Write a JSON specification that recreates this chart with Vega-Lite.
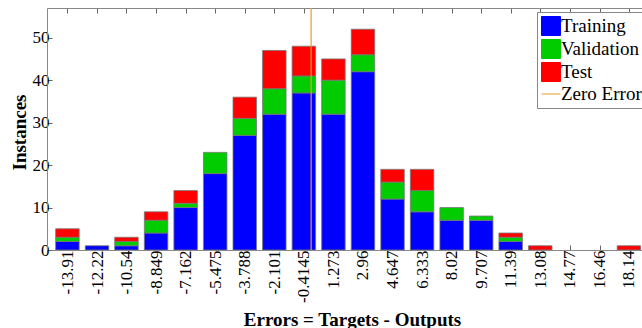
{
  "$schema": "https://vega.github.io/schema/vega-lite/v6.json",
  "autosize": "none",
  "width": 595,
  "height": 242,
  "padding": {"left": 47, "top": 8, "right": 0, "bottom": 78},
  "background": "white",
  "config": {
    "font": "Liberation Serif",
    "view": {"stroke": null},
    "axis": {"grid": false, "domainColor": "#888888", "tickColor": "#666666", "labelColor": "#000000", "titleColor": "#000000", "labelFont": "Liberation Serif", "titleFont": "Liberation Serif"},
    "legend": {"labelFont": "Liberation Serif"}
  },
  "datasets": {
    "hist": [
      {"bin": -13.91, "set": "Training", "n": 2}, {"bin": -13.91, "set": "Validation", "n": 1}, {"bin": -13.91, "set": "Test", "n": 2},
      {"bin": -12.22, "set": "Training", "n": 1},
      {"bin": -10.54, "set": "Training", "n": 1}, {"bin": -10.54, "set": "Validation", "n": 1}, {"bin": -10.54, "set": "Test", "n": 1},
      {"bin": -8.849, "set": "Training", "n": 4}, {"bin": -8.849, "set": "Validation", "n": 3}, {"bin": -8.849, "set": "Test", "n": 2},
      {"bin": -7.162, "set": "Training", "n": 10}, {"bin": -7.162, "set": "Validation", "n": 1}, {"bin": -7.162, "set": "Test", "n": 3},
      {"bin": -5.475, "set": "Training", "n": 18}, {"bin": -5.475, "set": "Validation", "n": 5},
      {"bin": -3.788, "set": "Training", "n": 27}, {"bin": -3.788, "set": "Validation", "n": 4}, {"bin": -3.788, "set": "Test", "n": 5},
      {"bin": -2.101, "set": "Training", "n": 32}, {"bin": -2.101, "set": "Validation", "n": 6}, {"bin": -2.101, "set": "Test", "n": 9},
      {"bin": -0.4145, "set": "Training", "n": 37}, {"bin": -0.4145, "set": "Validation", "n": 4}, {"bin": -0.4145, "set": "Test", "n": 7},
      {"bin": 1.273, "set": "Training", "n": 32}, {"bin": 1.273, "set": "Validation", "n": 8}, {"bin": 1.273, "set": "Test", "n": 5},
      {"bin": 2.96, "set": "Training", "n": 42}, {"bin": 2.96, "set": "Validation", "n": 4}, {"bin": 2.96, "set": "Test", "n": 6},
      {"bin": 4.647, "set": "Training", "n": 12}, {"bin": 4.647, "set": "Validation", "n": 4}, {"bin": 4.647, "set": "Test", "n": 3},
      {"bin": 6.333, "set": "Training", "n": 9}, {"bin": 6.333, "set": "Validation", "n": 5}, {"bin": 6.333, "set": "Test", "n": 5},
      {"bin": 8.02, "set": "Training", "n": 7}, {"bin": 8.02, "set": "Validation", "n": 3},
      {"bin": 9.707, "set": "Training", "n": 7}, {"bin": 9.707, "set": "Validation", "n": 1},
      {"bin": 11.39, "set": "Training", "n": 2}, {"bin": 11.39, "set": "Validation", "n": 1}, {"bin": 11.39, "set": "Test", "n": 1},
      {"bin": 13.08, "set": "Test", "n": 1},
      {"bin": 18.14, "set": "Test", "n": 1}
    ],
    "zero": [{"x": 0, "set": "Zero Error"}]
  },
  "layer": [
    {
      "data": {"name": "hist"},
      "transform": [{"calculate": "indexof(['Training','Validation','Test'], datum.set)", "as": "ord"}],
      "mark": {"type": "bar", "size": 23.5, "stroke": "#777777", "strokeWidth": 0.8, "clip": true},
      "encoding": {
        "x": {
          "field": "bin", "type": "quantitative",
          "scale": {"domain": [-14.79, 18.6], "nice": false, "zero": false},
          "axis": {
            "orient": "bottom",
            "title": "Errors = Targets - Outputs",
            "titleFont": "Liberation Serif", "titleFontSize": 19, "titleFontWeight": "bold", "titleX": 305, "titleY": 75, "titleBaseline": "alphabetic", "titleAnchor": "middle", "titleAlign": "center",
            "values": [-13.91, -12.22, -10.54, -8.849, -7.162, -5.475, -3.788, -2.101, -0.4145, 1.273, 2.96, 4.647, 6.333, 8.02, 9.707, 11.39, 13.08, 14.77, 16.46, 18.14],
            "labelExpr": "'' + datum.value",
            "labelFont": "Liberation Serif",
            "labelAngle": 270, "labelAlign": "right", "labelBaseline": "middle",
            "labelFontSize": 17, "labelPadding": 5, "tickSize": -5, "labelFlush": false, "labelOverlap": false, "labelBound": false
          }
        },
        "y": {
          "field": "n", "type": "quantitative", "stack": "zero",
          "scale": {"domain": [0, 57], "nice": false},
          "axis": {"values": [0, 10, 20, 30, 40, 50], "title": "Instances", "titleFont": "Liberation Serif", "titleFontSize": 19, "titleFontWeight": "bold", "titleAngle": 270, "titleBaseline": "alphabetic", "titleX": -22, "titleY": 124, "titleAlign": "center", "labelFont": "Liberation Serif", "labelFontSize": 17, "labelPadding": 3, "tickSize": -5}
        },
        "color": {
          "field": "set", "type": "nominal",
          "scale": {"domain": ["Training", "Validation", "Test", "Zero Error"], "range": ["#0000FF", "#00CC00", "#FF0000", "#E0A030"]},
          "legend": {
            "title": null, "orient": "none", "legendX": 490, "legendY": 4,
            "labelFontSize": 19, "labelFont": "Liberation Serif", "labelColor": "#000000",
            "symbolSize": 361, "symbolType": "square", "rowPadding": -1, "labelOffset": 0,
            "padding": 4, "strokeColor": "#888888", "fillColor": "white",
            "encode": {
              "symbols": {"update": {
                "shape": {"signal": "datum.label == 'Zero Error' ? 'stroke' : 'square'"},
                "fill": {"signal": "datum.label == 'Zero Error' ? 'transparent' : scale('color', datum.value)"},
                "stroke": {"signal": "datum.label == 'Zero Error' ? '#E0A030' : '#666666'"},
                "strokeWidth": {"value": 1},
                "opacity": {"value": 1}
              }}
            }
          }
        },
        "order": {"field": "ord", "type": "quantitative"}
      }
    },
    {
      "data": {"name": "zero"},
      "mark": {"type": "rule", "strokeWidth": 1.2},
      "encoding": {
        "x": {
          "field": "x", "type": "quantitative",
          "axis": {"orient": "top", "labels": false, "title": null, "tickSize": -5,
            "values": [-13.91, -12.22, -10.54, -8.849, -7.162, -5.475, -3.788, -2.101, -0.4145, 1.273, 2.96, 4.647, 6.333, 8.02, 9.707, 11.39, 13.08, 14.77, 16.46, 18.14]}
        },
        "color": {
          "field": "set", "type": "nominal",
          "legend": {
            "title": null, "orient": "none", "legendX": 490, "legendY": 4,
            "labelFontSize": 19, "labelFont": "Liberation Serif", "labelColor": "#000000",
            "symbolSize": 361, "symbolType": "square", "rowPadding": -1, "labelOffset": 0,
            "padding": 4, "strokeColor": "#888888", "fillColor": "white",
            "encode": {
              "symbols": {"update": {
                "shape": {"signal": "datum.label == 'Zero Error' ? 'stroke' : 'square'"},
                "fill": {"signal": "datum.label == 'Zero Error' ? 'transparent' : scale('color', datum.value)"},
                "stroke": {"signal": "datum.label == 'Zero Error' ? '#E0A030' : '#666666'"},
                "strokeWidth": {"value": 1},
                "opacity": {"value": 1}
              }}
            }
          }
        }
      }
    }
  ],
  "resolve": {"axis": {"x": "independent"}}
}
